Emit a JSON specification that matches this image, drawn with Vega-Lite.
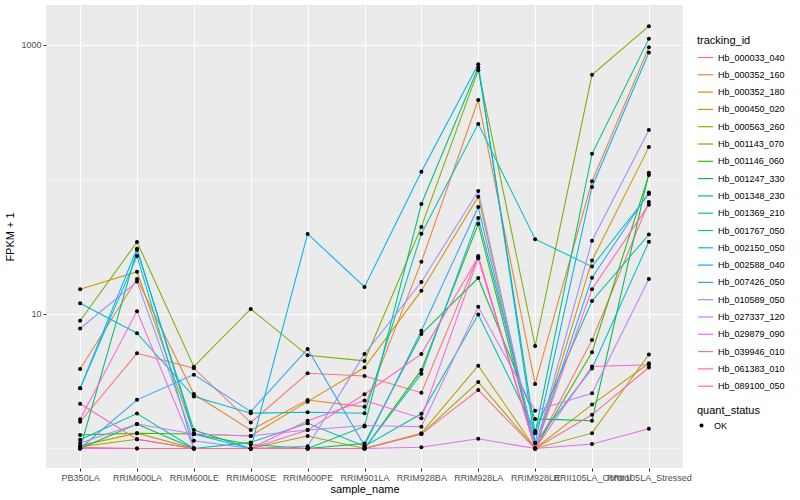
{
"$schema": "https://vega.github.io/schema/vega-lite/v6.json",
"width": 637, "height": 463,
"autosize": {"type": "none"},
"padding": {"left": 46, "top": 5, "right": 117, "bottom": 32},
"background": "white",
"config": {
  "font": "Liberation Sans",
  "view": {"fill": "#EBEBEB", "stroke": null},
  "axis": {"domain": false, "gridColor": "white", "tickColor": "#333333", "tickSize": 3, "labelColor": "#4D4D4D", "labelFontSize": 9, "titleFontSize": 11, "titleFontWeight": "normal", "titleColor": "black", "labelPadding": 2}
},
"data": {"values": [
{"id":"Hb_000033_040","sample":"PB350LA","fpkm":1.58},{"id":"Hb_000033_040","sample":"RRIM600LA","fpkm":5.1},{"id":"Hb_000033_040","sample":"RRIM600LE","fpkm":3.95},{"id":"Hb_000033_040","sample":"RRIM600SE","fpkm":1.56},{"id":"Hb_000033_040","sample":"RRIM600PE","fpkm":3.62},{"id":"Hb_000033_040","sample":"RRIM901LA","fpkm":3.46},{"id":"Hb_000033_040","sample":"RRIM928BA","fpkm":2.6},{"id":"Hb_000033_040","sample":"RRIM928LA","fpkm":27},{"id":"Hb_000033_040","sample":"RRIM928LE","fpkm":1.0},{"id":"Hb_000033_040","sample":"RRII105LA_Control","fpkm":6.4},{"id":"Hb_000033_040","sample":"RRII105LA_Stressed","fpkm":68},
{"id":"Hb_000352_160","sample":"PB350LA","fpkm":3.9},{"id":"Hb_000352_160","sample":"RRIM600LA","fpkm":18.2},{"id":"Hb_000352_160","sample":"RRIM600LE","fpkm":2.54},{"id":"Hb_000352_160","sample":"RRIM600SE","fpkm":1.37},{"id":"Hb_000352_160","sample":"RRIM600PE","fpkm":2.29},{"id":"Hb_000352_160","sample":"RRIM901LA","fpkm":2.04},{"id":"Hb_000352_160","sample":"RRIM928BA","fpkm":24.4},{"id":"Hb_000352_160","sample":"RRIM928LA","fpkm":390},{"id":"Hb_000352_160","sample":"RRIM928LE","fpkm":3.02},{"id":"Hb_000352_160","sample":"RRII105LA_Control","fpkm":97},{"id":"Hb_000352_160","sample":"RRII105LA_Stressed","fpkm":960},
{"id":"Hb_000352_180","sample":"PB350LA","fpkm":15.3},{"id":"Hb_000352_180","sample":"RRIM600LA","fpkm":20.6},{"id":"Hb_000352_180","sample":"RRIM600LE","fpkm":1.28},{"id":"Hb_000352_180","sample":"RRIM600SE","fpkm":1.24},{"id":"Hb_000352_180","sample":"RRIM600PE","fpkm":2.23},{"id":"Hb_000352_180","sample":"RRIM901LA","fpkm":4.0},{"id":"Hb_000352_180","sample":"RRIM928BA","fpkm":14.9},{"id":"Hb_000352_180","sample":"RRIM928LA","fpkm":74.5},{"id":"Hb_000352_180","sample":"RRIM928LE","fpkm":1.0},{"id":"Hb_000352_180","sample":"RRII105LA_Control","fpkm":25},{"id":"Hb_000352_180","sample":"RRII105LA_Stressed","fpkm":174},
{"id":"Hb_000450_020","sample":"PB350LA","fpkm":1.05},{"id":"Hb_000450_020","sample":"RRIM600LA","fpkm":1.3},{"id":"Hb_000450_020","sample":"RRIM600LE","fpkm":1.0},{"id":"Hb_000450_020","sample":"RRIM600SE","fpkm":1.0},{"id":"Hb_000450_020","sample":"RRIM600PE","fpkm":1.0},{"id":"Hb_000450_020","sample":"RRIM901LA","fpkm":1.0},{"id":"Hb_000450_020","sample":"RRIM928BA","fpkm":1.3},{"id":"Hb_000450_020","sample":"RRIM928LA","fpkm":4.13},{"id":"Hb_000450_020","sample":"RRIM928LE","fpkm":1.0},{"id":"Hb_000450_020","sample":"RRII105LA_Control","fpkm":2.12},{"id":"Hb_000450_020","sample":"RRII105LA_Stressed","fpkm":4.3},
{"id":"Hb_000563_260","sample":"PB350LA","fpkm":1.03},{"id":"Hb_000563_260","sample":"RRIM600LA","fpkm":1.17},{"id":"Hb_000563_260","sample":"RRIM600LE","fpkm":1.0},{"id":"Hb_000563_260","sample":"RRIM600SE","fpkm":1.0},{"id":"Hb_000563_260","sample":"RRIM600PE","fpkm":1.24},{"id":"Hb_000563_260","sample":"RRIM901LA","fpkm":1.0},{"id":"Hb_000563_260","sample":"RRIM928BA","fpkm":1.28},{"id":"Hb_000563_260","sample":"RRIM928LA","fpkm":3.12},{"id":"Hb_000563_260","sample":"RRIM928LE","fpkm":1.0},{"id":"Hb_000563_260","sample":"RRII105LA_Control","fpkm":1.3},{"id":"Hb_000563_260","sample":"RRII105LA_Stressed","fpkm":5.0},
{"id":"Hb_001143_070","sample":"PB350LA","fpkm":8.9},{"id":"Hb_001143_070","sample":"RRIM600LA","fpkm":34.3},{"id":"Hb_001143_070","sample":"RRIM600LE","fpkm":4.06},{"id":"Hb_001143_070","sample":"RRIM600SE","fpkm":10.9},{"id":"Hb_001143_070","sample":"RRIM600PE","fpkm":4.93},{"id":"Hb_001143_070","sample":"RRIM901LA","fpkm":4.48},{"id":"Hb_001143_070","sample":"RRIM928BA","fpkm":44.4},{"id":"Hb_001143_070","sample":"RRIM928LA","fpkm":650},{"id":"Hb_001143_070","sample":"RRIM928LE","fpkm":5.78},{"id":"Hb_001143_070","sample":"RRII105LA_Control","fpkm":600},{"id":"Hb_001143_070","sample":"RRII105LA_Stressed","fpkm":1380},
{"id":"Hb_001146_060","sample":"PB350LA","fpkm":1.26},{"id":"Hb_001146_060","sample":"RRIM600LA","fpkm":1.3},{"id":"Hb_001146_060","sample":"RRIM600LE","fpkm":1.28},{"id":"Hb_001146_060","sample":"RRIM600SE","fpkm":1.07},{"id":"Hb_001146_060","sample":"RRIM600PE","fpkm":1.0},{"id":"Hb_001146_060","sample":"RRIM901LA","fpkm":1.0},{"id":"Hb_001146_060","sample":"RRIM928BA","fpkm":3.84},{"id":"Hb_001146_060","sample":"RRIM928LA","fpkm":46.7},{"id":"Hb_001146_060","sample":"RRIM928LE","fpkm":1.0},{"id":"Hb_001146_060","sample":"RRII105LA_Control","fpkm":5.2},{"id":"Hb_001146_060","sample":"RRII105LA_Stressed","fpkm":108},
{"id":"Hb_001247_330","sample":"PB350LA","fpkm":1.0},{"id":"Hb_001247_330","sample":"RRIM600LA","fpkm":1.52},{"id":"Hb_001247_330","sample":"RRIM600LE","fpkm":1.0},{"id":"Hb_001247_330","sample":"RRIM600SE","fpkm":1.0},{"id":"Hb_001247_330","sample":"RRIM600PE","fpkm":1.0},{"id":"Hb_001247_330","sample":"RRIM901LA","fpkm":1.09},{"id":"Hb_001247_330","sample":"RRIM928BA","fpkm":7.1},{"id":"Hb_001247_330","sample":"RRIM928LA","fpkm":18.5},{"id":"Hb_001247_330","sample":"RRIM928LE","fpkm":1.66},{"id":"Hb_001247_330","sample":"RRII105LA_Control","fpkm":1.61},{"id":"Hb_001247_330","sample":"RRII105LA_Stressed","fpkm":112},
{"id":"Hb_001348_230","sample":"PB350LA","fpkm":1.0},{"id":"Hb_001348_230","sample":"RRIM600LA","fpkm":30},{"id":"Hb_001348_230","sample":"RRIM600LE","fpkm":1.37},{"id":"Hb_001348_230","sample":"RRIM600SE","fpkm":1.0},{"id":"Hb_001348_230","sample":"RRIM600PE","fpkm":1.0},{"id":"Hb_001348_230","sample":"RRIM901LA","fpkm":1.46},{"id":"Hb_001348_230","sample":"RRIM928BA","fpkm":65.7},{"id":"Hb_001348_230","sample":"RRIM928LA","fpkm":680},{"id":"Hb_001348_230","sample":"RRIM928LE","fpkm":1.3},{"id":"Hb_001348_230","sample":"RRII105LA_Control","fpkm":155},{"id":"Hb_001348_230","sample":"RRII105LA_Stressed","fpkm":1110},
{"id":"Hb_001369_210","sample":"PB350LA","fpkm":1.16},{"id":"Hb_001369_210","sample":"RRIM600LA","fpkm":1.82},{"id":"Hb_001369_210","sample":"RRIM600LE","fpkm":1.0},{"id":"Hb_001369_210","sample":"RRIM600SE","fpkm":1.11},{"id":"Hb_001369_210","sample":"RRIM600PE","fpkm":1.54},{"id":"Hb_001369_210","sample":"RRIM901LA","fpkm":1.04},{"id":"Hb_001369_210","sample":"RRIM928BA","fpkm":1.81},{"id":"Hb_001369_210","sample":"RRIM928LA","fpkm":9.9},{"id":"Hb_001369_210","sample":"RRIM928LE","fpkm":1.35},{"id":"Hb_001369_210","sample":"RRII105LA_Control","fpkm":12.5},{"id":"Hb_001369_210","sample":"RRII105LA_Stressed","fpkm":39},
{"id":"Hb_001767_050","sample":"PB350LA","fpkm":12},{"id":"Hb_001767_050","sample":"RRIM600LA","fpkm":7.2},{"id":"Hb_001767_050","sample":"RRIM600LE","fpkm":2.43},{"id":"Hb_001767_050","sample":"RRIM600SE","fpkm":1.83},{"id":"Hb_001767_050","sample":"RRIM600PE","fpkm":1.86},{"id":"Hb_001767_050","sample":"RRIM901LA","fpkm":1.83},{"id":"Hb_001767_050","sample":"RRIM928BA","fpkm":39.5},{"id":"Hb_001767_050","sample":"RRIM928LA","fpkm":259},{"id":"Hb_001767_050","sample":"RRIM928LE","fpkm":36},{"id":"Hb_001767_050","sample":"RRII105LA_Control","fpkm":22.5},{"id":"Hb_001767_050","sample":"RRII105LA_Stressed","fpkm":78},
{"id":"Hb_002150_050","sample":"PB350LA","fpkm":2.8},{"id":"Hb_002150_050","sample":"RRIM600LA","fpkm":27},{"id":"Hb_002150_050","sample":"RRIM600LE","fpkm":1.0},{"id":"Hb_002150_050","sample":"RRIM600SE","fpkm":1.0},{"id":"Hb_002150_050","sample":"RRIM600PE","fpkm":1.0},{"id":"Hb_002150_050","sample":"RRIM901LA","fpkm":1.0},{"id":"Hb_002150_050","sample":"RRIM928BA","fpkm":3.6},{"id":"Hb_002150_050","sample":"RRIM928LA","fpkm":51.8},{"id":"Hb_002150_050","sample":"RRIM928LE","fpkm":1.1},{"id":"Hb_002150_050","sample":"RRII105LA_Control","fpkm":3.94},{"id":"Hb_002150_050","sample":"RRII105LA_Stressed","fpkm":34.4},
{"id":"Hb_002588_040","sample":"PB350LA","fpkm":2.8},{"id":"Hb_002588_040","sample":"RRIM600LA","fpkm":30.6},{"id":"Hb_002588_040","sample":"RRIM600LE","fpkm":1.28},{"id":"Hb_002588_040","sample":"RRIM600SE","fpkm":1.0},{"id":"Hb_002588_040","sample":"RRIM600PE","fpkm":39.4},{"id":"Hb_002588_040","sample":"RRIM901LA","fpkm":15.9},{"id":"Hb_002588_040","sample":"RRIM928BA","fpkm":114},{"id":"Hb_002588_040","sample":"RRIM928LA","fpkm":720},{"id":"Hb_002588_040","sample":"RRIM928LE","fpkm":1.1},{"id":"Hb_002588_040","sample":"RRII105LA_Control","fpkm":88},{"id":"Hb_002588_040","sample":"RRII105LA_Stressed","fpkm":880},
{"id":"Hb_007426_050","sample":"PB350LA","fpkm":1.0},{"id":"Hb_007426_050","sample":"RRIM600LA","fpkm":2.3},{"id":"Hb_007426_050","sample":"RRIM600LE","fpkm":3.54},{"id":"Hb_007426_050","sample":"RRIM600SE","fpkm":1.88},{"id":"Hb_007426_050","sample":"RRIM600PE","fpkm":5.5},{"id":"Hb_007426_050","sample":"RRIM901LA","fpkm":1.05},{"id":"Hb_007426_050","sample":"RRIM928BA","fpkm":7.5},{"id":"Hb_007426_050","sample":"RRIM928LA","fpkm":62.5},{"id":"Hb_007426_050","sample":"RRIM928LE","fpkm":1.0},{"id":"Hb_007426_050","sample":"RRII105LA_Control","fpkm":18.6},{"id":"Hb_007426_050","sample":"RRII105LA_Stressed","fpkm":80},
{"id":"Hb_010589_050","sample":"PB350LA","fpkm":7.8},{"id":"Hb_010589_050","sample":"RRIM600LA","fpkm":17.4},{"id":"Hb_010589_050","sample":"RRIM600LE","fpkm":1.14},{"id":"Hb_010589_050","sample":"RRIM600SE","fpkm":1.0},{"id":"Hb_010589_050","sample":"RRIM600PE","fpkm":1.04},{"id":"Hb_010589_050","sample":"RRIM901LA","fpkm":5.05},{"id":"Hb_010589_050","sample":"RRIM928BA","fpkm":17.3},{"id":"Hb_010589_050","sample":"RRIM928LA","fpkm":82},{"id":"Hb_010589_050","sample":"RRIM928LE","fpkm":1.0},{"id":"Hb_010589_050","sample":"RRII105LA_Control","fpkm":35},{"id":"Hb_010589_050","sample":"RRII105LA_Stressed","fpkm":233},
{"id":"Hb_027337_120","sample":"PB350LA","fpkm":1.1},{"id":"Hb_027337_120","sample":"RRIM600LA","fpkm":1.52},{"id":"Hb_027337_120","sample":"RRIM600LE","fpkm":1.28},{"id":"Hb_027337_120","sample":"RRIM600SE","fpkm":1.24},{"id":"Hb_027337_120","sample":"RRIM600PE","fpkm":1.37},{"id":"Hb_027337_120","sample":"RRIM901LA","fpkm":1.48},{"id":"Hb_027337_120","sample":"RRIM928BA","fpkm":1.45},{"id":"Hb_027337_120","sample":"RRIM928LA","fpkm":11.3},{"id":"Hb_027337_120","sample":"RRIM928LE","fpkm":1.91},{"id":"Hb_027337_120","sample":"RRII105LA_Control","fpkm":2.57},{"id":"Hb_027337_120","sample":"RRII105LA_Stressed","fpkm":18.2},
{"id":"Hb_029879_090","sample":"PB350LA","fpkm":1.0},{"id":"Hb_029879_090","sample":"RRIM600LA","fpkm":1.0},{"id":"Hb_029879_090","sample":"RRIM600LE","fpkm":1.0},{"id":"Hb_029879_090","sample":"RRIM600SE","fpkm":1.0},{"id":"Hb_029879_090","sample":"RRIM600PE","fpkm":1.0},{"id":"Hb_029879_090","sample":"RRIM901LA","fpkm":1.0},{"id":"Hb_029879_090","sample":"RRIM928BA","fpkm":1.02},{"id":"Hb_029879_090","sample":"RRIM928LA","fpkm":1.18},{"id":"Hb_029879_090","sample":"RRIM928LE","fpkm":1.0},{"id":"Hb_029879_090","sample":"RRII105LA_Control","fpkm":1.08},{"id":"Hb_029879_090","sample":"RRII105LA_Stressed","fpkm":1.4},
{"id":"Hb_039946_010","sample":"PB350LA","fpkm":1.65},{"id":"Hb_039946_010","sample":"RRIM600LA","fpkm":10.5},{"id":"Hb_039946_010","sample":"RRIM600LE","fpkm":1.0},{"id":"Hb_039946_010","sample":"RRIM600SE","fpkm":1.0},{"id":"Hb_039946_010","sample":"RRIM600PE","fpkm":1.61},{"id":"Hb_039946_010","sample":"RRIM901LA","fpkm":2.27},{"id":"Hb_039946_010","sample":"RRIM928BA","fpkm":1.68},{"id":"Hb_039946_010","sample":"RRIM928LA","fpkm":26},{"id":"Hb_039946_010","sample":"RRIM928LE","fpkm":1.0},{"id":"Hb_039946_010","sample":"RRII105LA_Control","fpkm":4.07},{"id":"Hb_039946_010","sample":"RRII105LA_Stressed","fpkm":4.2},
{"id":"Hb_061383_010","sample":"PB350LA","fpkm":2.15},{"id":"Hb_061383_010","sample":"RRIM600LA","fpkm":1.17},{"id":"Hb_061383_010","sample":"RRIM600LE","fpkm":1.0},{"id":"Hb_061383_010","sample":"RRIM600SE","fpkm":1.0},{"id":"Hb_061383_010","sample":"RRIM600PE","fpkm":1.37},{"id":"Hb_061383_010","sample":"RRIM901LA","fpkm":2.53},{"id":"Hb_061383_010","sample":"RRIM928BA","fpkm":5.05},{"id":"Hb_061383_010","sample":"RRIM928LA","fpkm":26.5},{"id":"Hb_061383_010","sample":"RRIM928LE","fpkm":1.0},{"id":"Hb_061383_010","sample":"RRII105LA_Control","fpkm":15.3},{"id":"Hb_061383_010","sample":"RRII105LA_Stressed","fpkm":65},
{"id":"Hb_089100_050","sample":"PB350LA","fpkm":1.02},{"id":"Hb_089100_050","sample":"RRIM600LA","fpkm":1.0},{"id":"Hb_089100_050","sample":"RRIM600LE","fpkm":1.0},{"id":"Hb_089100_050","sample":"RRIM600SE","fpkm":1.0},{"id":"Hb_089100_050","sample":"RRIM600PE","fpkm":1.0},{"id":"Hb_089100_050","sample":"RRIM901LA","fpkm":1.0},{"id":"Hb_089100_050","sample":"RRIM928BA","fpkm":1.28},{"id":"Hb_089100_050","sample":"RRIM928LA","fpkm":2.72},{"id":"Hb_089100_050","sample":"RRIM928LE","fpkm":1.0},{"id":"Hb_089100_050","sample":"RRII105LA_Control","fpkm":1.78},{"id":"Hb_089100_050","sample":"RRII105LA_Stressed","fpkm":4.0}
]},
"encoding": {
  "x": {"field": "sample", "type": "nominal",
    "sort": ["PB350LA","RRIM600LA","RRIM600LE","RRIM600SE","RRIM600PE","RRIM901LA","RRIM928BA","RRIM928LA","RRIM928LE","RRII105LA_Control","RRII105LA_Stressed"],
    "scale": {"type": "point", "padding": 0.6},
    "axis": {"title": "sample_name", "labelAngle": 0, "labelOverlap": false, "labelBound": false, "grid": true, "gridWidth": 1.1, "titleY": 21, "titleBaseline": "middle"}},
  "y": {"field": "fpkm", "type": "quantitative",
    "scale": {"type": "log", "domain": [0.716, 1982], "nice": false, "zero": false},
    "axis": {"title": "FPKM + 1", "values": [1, 10, 100, 1000], "grid": true,
      "labelExpr": "datum.value === 10 ? '10' : (datum.value === 1000 ? '1000' : '')",
      "gridWidth": {"condition": {"test": "datum.value === 10 || datum.value === 1000", "value": 1.1}, "value": 0.55},
      "tickOpacity": {"condition": {"test": "datum.value === 1 || datum.value === 100", "value": 0}, "value": 1},
      "titleX": -31}}
},
"layer": [
  {"mark": {"type": "line", "strokeWidth": 1.05},
   "encoding": {
     "color": {"field": "id", "type": "nominal",
       "scale": {"domain": ["Hb_000033_040","Hb_000352_160","Hb_000352_180","Hb_000450_020","Hb_000563_260","Hb_001143_070","Hb_001146_060","Hb_001247_330","Hb_001348_230","Hb_001369_210","Hb_001767_050","Hb_002150_050","Hb_002588_040","Hb_007426_050","Hb_010589_050","Hb_027337_120","Hb_029879_090","Hb_039946_010","Hb_061383_010","Hb_089100_050"],
         "range": ["#F8766D","#EA8331","#D89000","#C09B00","#A3A500","#7CAE00","#39B600","#00BB4E","#00BF7D","#00C1A3","#00BFC4","#00BAE0","#00B0F6","#35A2FF","#9590FF","#C77CFF","#E76BF3","#FA62DB","#FF62BC","#FF6C91"]},
       "legend": {"title": "tracking_id", "orient": "none", "legendX": 651, "legendY": 30, "symbolType": "stroke", "symbolSize": 225, "symbolStrokeWidth": 1.2, "labelFontSize": 9, "labelColor": "black", "titleFontSize": 11, "titleFontWeight": "normal", "titleColor": "black", "rowPadding": 3.3, "titlePadding": 3, "labelOffset": 4, "padding": 0}}
   }},
  {"mark": {"type": "point", "filled": true, "color": "black", "size": 16, "opacity": 1},
   "encoding": {
     "shape": {"datum": "OK", "type": "nominal", "scale": {"range": ["circle"]},
       "legend": {"title": "quant_status", "orient": "none", "legendX": 651, "legendY": 400, "symbolFillColor": "black", "symbolStrokeColor": "black", "symbolSize": 16, "labelFontSize": 9, "labelColor": "black", "titleFontSize": 11, "titleFontWeight": "normal", "titleColor": "black", "titlePadding": 5, "labelOffset": 8, "padding": 0}}
   }}
]
}
